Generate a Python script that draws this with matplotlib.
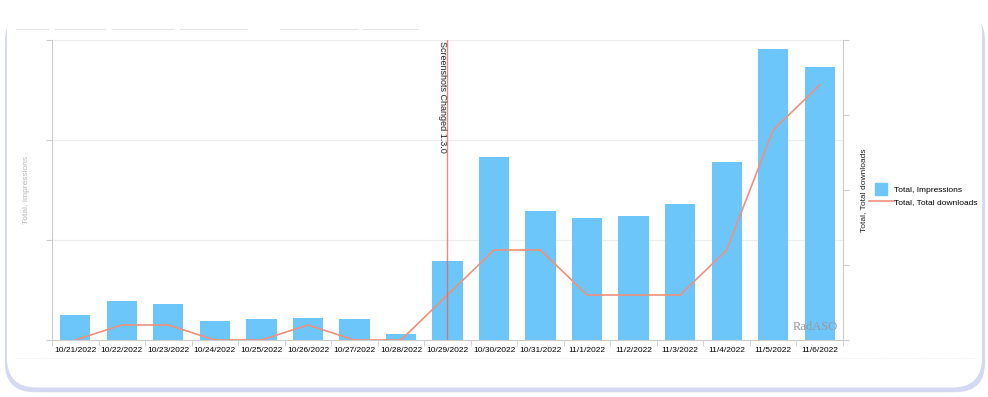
import numpy as np
import matplotlib as mpl
import matplotlib.pyplot as plt
from matplotlib.patches import FancyBboxPatch, Rectangle
from matplotlib.lines import Line2D
from matplotlib.legend_handler import HandlerPatch

plt.rcParams['font.family'] = ['Liberation Sans', 'DejaVu Sans']

dates = ["10/21/2022", "10/22/2022", "10/23/2022", "10/24/2022", "10/25/2022",
         "10/26/2022", "10/27/2022", "10/28/2022", "10/29/2022", "10/30/2022",
         "10/31/2022", "11/1/2022", "11/2/2022", "11/3/2022", "11/4/2022",
         "11/5/2022", "11/6/2022"]
impressions = [25, 39, 36, 19, 21, 22, 21, 6, 79, 183, 129, 122, 124, 136, 178, 291, 273]
downloads = [0, 1, 1, 0, 0, 1, 0, 0, 3, 6, 6, 3, 3, 3, 6, 14, 17]
event_date = "10/29/2022"
event_label = "Screenshots Changed 1.3.0"

bar_color = '#6cc6fa'
line_color = '#f0907c'

#square legend patch, centered in the handle box
def square_patch(legend, orig_handle, xdescent, ydescent, width, height, fontsize):
    s = height * 1.9
    return Rectangle((width/2 - s/2 - xdescent, height/2 - s/2 - ydescent), s, s)

fig = plt.figure(figsize=(9.88, 3.97), dpi=100)

# card background with soft bluish edge (shadow mostly below / right)
card_shadow = FancyBboxPatch((0.005, 0.012), 0.992, 0.96, boxstyle="round,pad=0,rounding_size=0.03",
                             transform=fig.transFigure, facecolor='#d3d9f3', edgecolor='none', zorder=0,
                             mutation_aspect=988/397)
card = FancyBboxPatch((0.007, 0.024), 0.987, 0.97, boxstyle="round,pad=0,rounding_size=0.03",
                      transform=fig.transFigure, facecolor='white', edgecolor='none', zorder=0.1,
                      mutation_aspect=988/397)
fig.patches.extend([card_shadow, card])

# faint tab lines on top and separator at bottom
for x0, x1 in [(16, 48), (55, 105), (112, 173), (180, 247), (280, 357), (363, 418)]:
    fig.add_artist(Line2D([x0/988, x1/988], [1-29/397, 1-29/397], color='#e6e6e6', lw=0.8))
fig.add_artist(Line2D([16/988, 975/988], [1-358/397, 1-358/397], color='#eeeeee', lw=0.8, ls=(0, (1, 1))))

ax = fig.add_axes([52/988, 1-340/397, 791/988, 300/397])
ax.set_zorder(2)
x = np.arange(len(dates))
ax.bar(x, impressions, width=0.65, color=bar_color, zorder=2)
ax.set_xlim(-0.5, len(dates)-0.5)
ax.set_ylim(0, 300)
ax.set_yticks([0, 100, 200, 300])
ax.set_yticklabels([])
ax.grid(axis='y', color='#ececec', lw=0.8, zorder=0)
ax.set_xticks(x)
ax.set_xticklabels(dates, fontsize=6)
ax.set_xticks(np.arange(len(dates)+1)-0.5, minor=True)
ax.tick_params(axis='x', which='major', length=0, pad=5)
ax.tick_params(axis='x', which='minor', length=4, color='#cccccc')
ax.tick_params(axis='y', length=4, color='#cccccc')
for s in ['top', 'right']:
    ax.spines[s].set_visible(False)
for s in ['left', 'bottom']:
    ax.spines[s].set_color('#cccccc')
ax.set_ylabel("Total, Impressions", fontsize=6, color='#b8b8b8', labelpad=8)

ax2 = ax.twinx()
line, = ax2.plot(x, downloads, color=line_color, lw=1.2, zorder=3)
ax2.set_ylim(0, 20)
ax2.set_yticks([0, 5, 10, 15, 20])
ax2.set_yticklabels([])
ax2.tick_params(axis='y', length=4, color='#cccccc')
for s in ['top', 'left', 'bottom']:
    ax2.spines[s].set_visible(False)
ax2.spines['right'].set_color('#cccccc')
ax2.set_ylabel("Total, Total downloads", fontsize=6, color='#222222', labelpad=5)

# event marker
ie = dates.index(event_date)
ax2.axvline(ie, color='#e8615a', lw=1.0, alpha=0.75, zorder=4)
ax2.text(ie - 0.02, 19.95, event_label, rotation=-90, fontsize=6.5, ha='right', va='top', color='#222222')

ax2.text(16.4, 0.5, "RadASO", family='Liberation Serif', fontsize=9, color='#999999',
         ha='right', va='bottom', zorder=5)

bar_proxy = Rectangle((0, 0), 1, 1, color=bar_color)
fig.legend([bar_proxy, line], ["Total, Impressions", "Total, Total downloads"],
           loc='center left', bbox_to_anchor=(861/988, 1-196/397),
           frameon=False, fontsize=6, handlelength=3.0, handletextpad=0.1, labelspacing=0.5,
           handler_map={Rectangle: HandlerPatch(patch_func=square_patch)})

plt.savefig("out.png", dpi=100)
